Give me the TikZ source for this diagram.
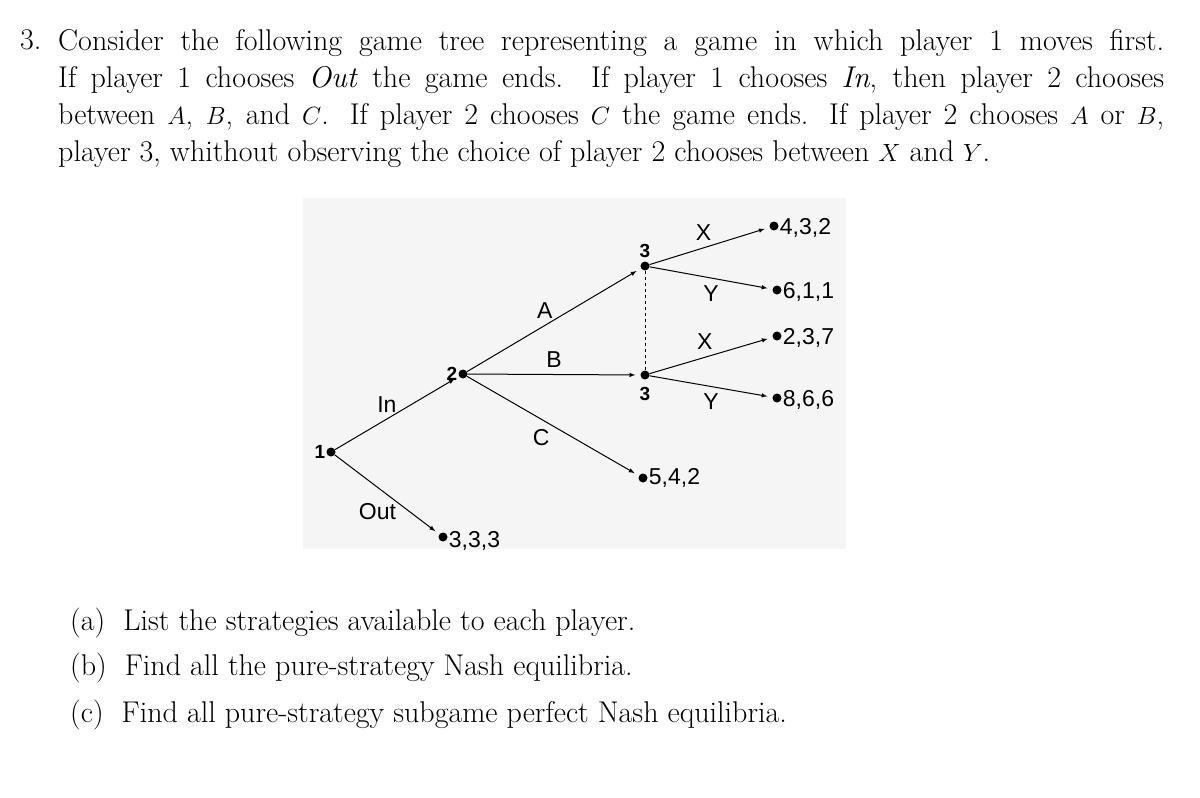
\documentclass[tikz,border=0pt]{standalone}
\usepackage{fontspec}
\newfontfamily\dsans{Liberation Sans}
\begin{document}
\begin{tikzpicture}[x=1pt,y=-1pt,
  dot/.style={circle,fill=black,inner sep=0pt,minimum size=9pt},
  br/.style={-latex,line width=1pt,shorten >=5pt},
  lab/.style={font=\dsans\fontsize{23}{23}\selectfont,inner sep=1pt},
  pl/.style={font=\dsans\bfseries\fontsize{19}{19}\selectfont,inner sep=1pt},
  txt/.style={font=\fontsize{30}{37}\selectfont,inner sep=0pt,anchor=north west}]
\useasboundingbox (0,0) rectangle (1200,798);
\fill[gray!8] (303,198) rectangle (846,549);
\node[txt] (num) at (20,29) {3.};
\node[txt,text width=1106pt,align=justify] (q) at (58,29) {Consider the following game tree representing a game in which player 1 moves first.\linebreak If player 1 chooses \textit{Out} the game ends. If player 1 chooses \textit{In}, then player 2 chooses\linebreak between $A$, $B$, and $C$. If player 2 chooses $C$ the game ends. If player 2 chooses $A$ or $B$,\linebreak player 3, whithout observing the choice of player 2 chooses between $X$ and $Y$.};
\node[dot] (n1) at (331,452) {};
\node[dot] (n2) at (463,374) {};
\node[dot] (n3a) at (645,266) {};
\node[dot] (n3b) at (645,375) {};
\node[dot] (tout) at (443,537) {};
\node[dot] (tc) at (643,478) {};
\node[dot] (t1) at (774,226) {};
\node[dot] (t2) at (777,290) {};
\node[dot] (t3) at (777,336) {};
\node[dot] (t4) at (777,398) {};
\node[pl,left] at (n1.west) {1};
\node[pl,left] at (n2.west) {2};
\node[pl,above=2pt] at (n3a.north) {3};
\node[pl,below=6pt] at (n3b.south) {3};
\draw[br] (n1) -- (n2) node[lab,pos=0.5,above left=-1pt] {In};
\draw[br] (n1) -- (tout) node[lab,pos=0.6,below left=0pt] {Out};
\draw[br] (n2) -- (n3a) node[lab,pos=0.5,above left=0pt] {A};
\draw[br] (n2) -- (n3b) node[lab,pos=0.5,above=6pt] {B};
\draw[br] (n2) -- (tc) node[lab,pos=0.5,below left=2pt] {C};
\draw[dashed,line width=0.8pt] (n3a) -- (n3b);
\draw[br] (n3a) -- (t1) node[lab,pos=0.45,above=6pt] {X};
\draw[br] (n3a) -- (t2) node[lab,pos=0.5,below=6pt] {Y};
\draw[br] (n3b) -- (t3) node[lab,pos=0.45,above=6pt] {X};
\draw[br] (n3b) -- (t4) node[lab,pos=0.5,below=6pt] {Y};
\node[lab,right,yshift=-2pt] at (t1.east) {4,3,2};
\node[lab,right,yshift=-2pt] at (t2.east) {6,1,1};
\node[lab,right,yshift=-2pt] at (t3.east) {2,3,7};
\node[lab,right,yshift=-2pt] at (t4.east) {8,6,6};
\node[lab,right] at (tc.east) {5,4,2};
\node[lab,right,yshift=-4pt] at (tout.east) {3,3,3};
\node[txt,anchor=west] (a) at (70,623) {(a)\ \ List the strategies available to each player.};
\node[txt,anchor=west] (b) at (70,668) {(b)\ \ Find all the pure-strategy Nash equilibria.};
\node[txt,anchor=west] (c) at (70,715) {(c)\ \ Find all pure-strategy subgame perfect Nash equilibria.};
\end{tikzpicture}
\end{document}
